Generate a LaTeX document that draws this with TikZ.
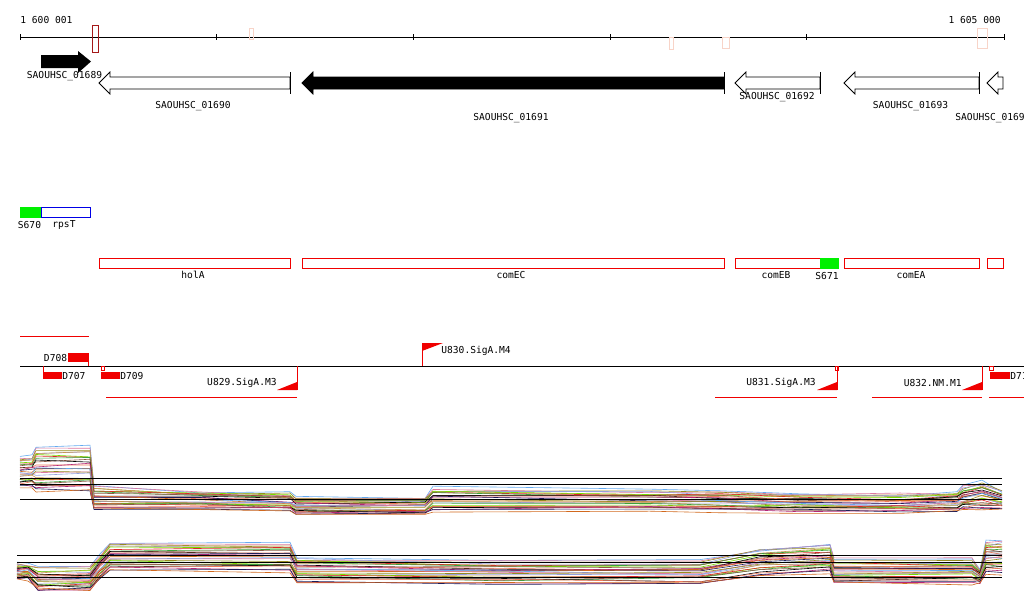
\documentclass[tikz,border=0pt]{standalone}
\usepackage{fontspec}
\newfontfamily\monofont{DejaVu Sans Mono}
\usetikzlibrary{positioning}

\definecolor{scalered}{RGB}{165,25,25}
\definecolor{ticpink}{RGB}{248,212,200}
\definecolor{featred}{RGB}{240,0,0}
\definecolor{featgreen}{RGB}{0,240,0}
\definecolor{featblue}{RGB}{0,0,230}
% expression profile colours
\definecolor{pc0}{RGB}{210,105,30}
\definecolor{pc1}{RGB}{150,140,30}
\definecolor{pc2}{RGB}{120,220,0}
\definecolor{pc3}{RGB}{140,90,70}
\definecolor{pc4}{RGB}{180,40,120}
\definecolor{pc5}{RGB}{100,170,240}
\definecolor{pc6}{RGB}{150,160,220}
\definecolor{pc7}{RGB}{220,40,40}
\definecolor{pc8}{RGB}{0,0,0}
\definecolor{pc9}{RGB}{30,30,90}
\definecolor{pc10}{RGB}{220,120,160}
\definecolor{pc11}{RGB}{200,150,80}
\definecolor{pc12}{RGB}{60,160,60}
\definecolor{pc13}{RGB}{240,120,90}

\begin{document}
\begin{tikzpicture}[x=1pt, y=-1pt, line width=0.8pt,
    txt/.style={font={\monofont\fontsize{9.6}{11}\selectfont}, inner sep=0pt, text=black},
    gene/.style={draw=black, fill=white},
    genefill/.style={draw=black, fill=black},
    feat/.style={draw=featred},
    trace/.style={line width=0.6pt}]
\tikzstyle{axis}=[draw=black, line width=1pt]
\clip (0,0) rectangle (1024,611);
\fill[white] (0,0) rectangle (1024,611);

% scale
\draw[axis] (20,37) -- (1004,37);
\foreach \x in {20,216,413,610,806,1004}
  \draw[axis] (\x,34) -- (\x,40);
\node[txt, anchor=west] (s1) at (20,20.5) {1 600 001};
\node[txt, anchor=east] (s2) at (1001,20.5) {1 605 000};
\draw[scalered] (92.5,25.5) rectangle (98.5,52);
\foreach \a/\b/\t/\u in {249/253/28/39, 669/673/37/49, 722/729/37/48, 977/987/28/48}
  \draw[ticpink] (\a,\t) rectangle (\b,\u);

% genes
\fill[black] (41,55) -- (78,55) -- (78,51) -- (91,61.5) -- (78,73) -- (78,68) -- (41,68) -- cycle;
\foreach \xt/\xe/\st in {99/290/gene, 302/724/genefill, 735/820/gene, 844/979/gene}{
  \path[\st] (\xt,83) -- (\xt+11,72) -- (\xt+11,77) -- (\xe,77) -- (\xe,89)
    -- (\xt+11,89) -- (\xt+11,94) -- cycle;
  \draw (\xe,72) -- (\xe,94);
}
\path[gene] (987,83) -- (998,72) -- (998,77) -- (1003,77) -- (1003,89) -- (998,89) -- (998,94) -- cycle;
\node[txt] (g1689) at (64.5,76) {SAOUHSC\_01689};
\node[txt] (g1690) at (193,106) {SAOUHSC\_01690};
\node[txt] (g1691) at (511,118) {SAOUHSC\_01691};
\node[txt] (g1692) at (777,97.5) {SAOUHSC\_01692};
\node[txt] (g1693) at (910.5,106) {SAOUHSC\_01693};
\node[txt, anchor=west] (g1694) at (955,118) {SAOUHSC\_01694};

% sRNA / operon features
\fill[featgreen] (20,207) rectangle (41,217.5);
\draw[featblue] (41,207.5) rectangle (90.5,217.5);
\node[txt] (s670) at (29.5,224.5) {S670};
\node[txt] (rpsT) at (64,224.5) {rpsT};
\foreach \a/\b in {99/290, 302/724, 735/838, 844/979, 987/1003}
  \draw[feat] (\a,258.5) rectangle (\b,268.5);
\fill[featgreen] (820,258) rectangle (838.5,269);
\node[txt] (holA) at (193,275) {holA};
\node[txt] (comEC) at (511,275) {comEC};
\node[txt] (comEB) at (776,275.5) {comEB};
\node[txt] (s671) at (827,275.5) {S671};
\node[txt] (comEA) at (911,275.5) {comEA};

% promoters and terminators
\draw[axis] (20,366) -- (1024,366);
\draw[featred] (20,336) -- (89,336);
\fill[featred] (68,353) rectangle (89,362);
\draw[featred] (88.5,362) -- (88.5,366);
\node[txt, anchor=east] (d708) at (67.5,357.5) {D708};
\draw[featred] (43.5,366) -- (43.5,372);
\fill[featred] (43,372) rectangle (62,379);
\node[txt, anchor=west] (d707) at (62,375.5) {D707};
\draw[featred] (101.5,366) rectangle (104,370);
\fill[featred] (101,372) rectangle (120,379);
\node[txt, anchor=west] (d709) at (120,375.5) {D709};
\draw[featred] (989.5,366) rectangle (993,370);
\fill[featred] (990,372) rectangle (1010,379);
\node[txt, anchor=west] (d710) at (1010,375.5) {D710};
\draw[featred] (835.5,366) rectangle (838.5,370);
\foreach \xv/\xl in {297/106, 837/715, 982/872}{
  \draw[featred] (\xv,366) -- (\xv,390);
  \fill[featred] (\xv-20,390) -- (\xv,390) -- (\xv,382) -- cycle;
  \draw[featred] (\xl,397) -- (\xv,397);
}
\draw[featred] (989,397) -- (1024,397);
\node[txt, anchor=east] (u829) at (277,383) {U829.SigA.M3};
\node[txt, anchor=east] (u831) at (816,383) {U831.SigA.M3};
\node[txt, anchor=east] (u832) at (962,383) {U832.NM.M1};
\draw[featred] (422.5,343) -- (422.5,366);
\fill[featred] (422,343) -- (443,343) -- (422,351) -- cycle;
\node[txt, anchor=west] (u830) at (441,351) {U830.SigA.M4};

% expression profiles
\pgfmathsetseed{17}
\foreach \i in {1,...,28}{
  \pgfmathsetmacro\t{-1+2*(\i-1)/27}
  \pgfmathtruncatemacro\k{mod(\i*5,14)}
  \draw[trace, pc\k] (20,{472+\t*15+rand}) \foreach \x/\c/\s in {32/472/15, 36/469/22, 90/469/22,
      94/498/11, 200/500/9, 290/502/9, 296/506/8, 425/506/8, 433/499/11, 650/500/10, 720/501/10,
      800/503/9, 900/503/9, 957/502/10, 963/498/11, 982/495/13, 1002/500/9}{ -- (\x,{\c+\t*\s+2.2*rand}) };
  \draw[trace, pc\k] (17,{571+\t*8+rand}) \foreach \x/\c/\s in {28/571/8, 38/579/11, 90/579/11,
      100/567/11, 110/557/14, 290/557/14, 297/570/12, 500/572/12, 700/572/11, 760/562/13,
      830/558/14, 834/571/12, 972/571/12, 980/576/7, 986/557/16, 1002/557/16}{ -- (\x,{\c+\t*\s+2.2*rand}) };
}
\foreach \y in {478,484,499}
  \draw[axis] (20,\y) -- (1002,\y);
\foreach \y in {555,562,577}
  \draw[axis] (17,\y) -- (1002,\y);
\end{tikzpicture}
\end{document}
